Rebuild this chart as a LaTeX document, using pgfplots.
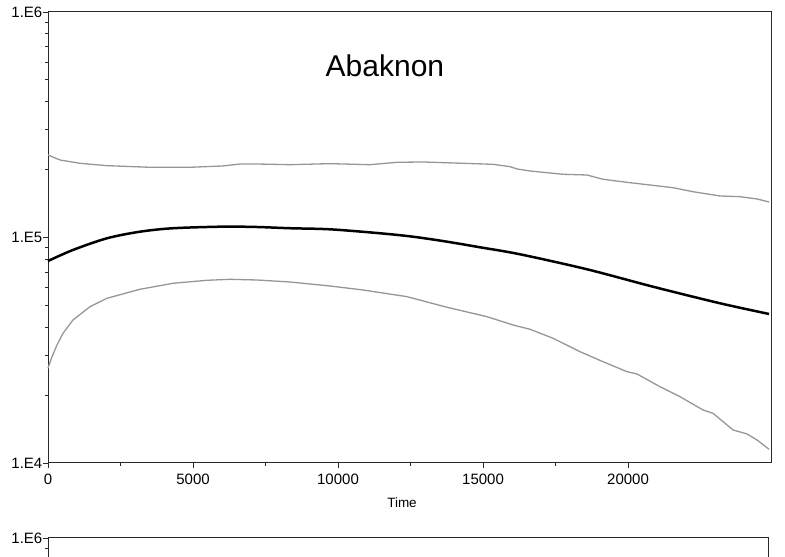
\documentclass[border=0pt]{standalone}
\usepackage{pgfplots}
\pgfplotsset{compat=1.18}
\usepackage{fontspec}
\setmainfont{Liberation Sans}
\definecolor{band}{RGB}{150,150,150}
\definecolor{frame}{RGB}{40,40,40}
\begin{document}
\begin{tikzpicture}
\path[use as bounding box] (0pt,0pt) rectangle (785pt,557pt);
\clip (0pt,0pt) rectangle (785pt,557pt);
\begin{axis}[
    at={(48pt,94pt)}, anchor=south west, width=723pt, height=451pt,
    scale only axis,
    ymode=log,
    xmin=0, xmax=24930,
    ymin=1e4, ymax=1e6,
    xtick pos=left, ytick pos=left,
    axis line style={frame, line width=1pt},
    every tick/.style={frame, line width=0.9pt},
    tick align=outside,
    major tick length=5pt,
    minor tick length=3pt,
    scaled x ticks=false,
    xtick={0,5000,10000,15000,20000},
    xticklabels={0,5000,10000,15000,20000},
    minor x tick num=1,
    ytick={1e4,1e5,1e6},
    yticklabels={1.E4,1.E5,1.E6},
    xticklabel style={font=\fontsize{15}{18}\selectfont, inner sep=0pt, yshift=-6pt},
    yticklabel style={font=\fontsize{15}{18}\selectfont, inner sep=0pt, xshift=-0.5pt},
    clip=false,
]
% upper band
\addplot[band, line width=1.3pt] coordinates {
(0,232200) (414,220600) (1103,213300) (2034,208200) (3517,204800) (4897,204800)
(6034,207600) (6621,211800) (7207,211800) (8345,210300) (9724,212500) (11103,210300)
(12034,215500) (12931,216200) (14310,213300) (15345,211100) (15931,206100) (16172,201300)
(16621,197200) (16966,195200) (17759,190700) (18586,189300) (19138,181200) (20069,175000)
(21552,166300) (22241,159600) (23172,152800) (23862,151700) (24448,148200) (24862,143700)
};
% central line
\addplot[black, line width=2.5pt, smooth] coordinates {
(0,78660) (862,88060) (2034,99190) (3172,106100) (4310,109900) (6034,111700) (7207,111300)
(8345,109900) (9724,108700) (11448,104400) (12586,100800) (13759,95810) (14897,90470)
(16276,84240) (18586,72280) (20862,60500) (23172,51080) (24862,45800)
};
% lower band
\addplot[band, line width=1.3pt] coordinates {
(0,26300) (138,29600) (310,33370) (517,37610) (862,43070) (1448,49330) (2034,53760)
(3172,58930) (4310,62650) (5483,64600) (6276,65250) (7207,64790) (8345,63490) (9724,60940)
(10862,58500) (12379,54650) (13759,49030) (15138,44550) (16034,40930) (16621,39170)
(17414,35730) (18345,31160) (19138,28130) (19966,25400) (20310,24810) (21103,21790)
(21793,19680) (22586,17180) (22931,16610) (23621,14010) (24103,13450) (24448,12650) (24862,11500)
};
\node[font=\fontsize{30}{34}\selectfont, anchor=base] at (rel axis cs:0.466,0.857) {Abaknon};
\end{axis}
\node[font=\fontsize{13.5}{16}\selectfont] at (402pt,54pt) {Time};
\begin{axis}[
    at={(48pt,19pt)}, anchor=north west, width=720pt, height=451pt,
    scale only axis,
    ymode=log,
    xmin=0, xmax=24930,
    ymin=1e4, ymax=1e6,
    xtick pos=left, ytick pos=left,
    axis line style={frame, line width=1pt},
    every tick/.style={frame, line width=0.9pt},
    tick align=outside,
    major tick length=5pt,
    minor tick length=3pt,
    scaled x ticks=false,
    xtick={0,5000,10000,15000,20000},
    xticklabels={0,5000,10000,15000,20000},
    minor x tick num=1,
    ytick={1e4,1e5,1e6},
    yticklabels={1.E4,1.E5,1.E6},
    xticklabel style={font=\fontsize{15}{18}\selectfont, inner sep=0pt, yshift=-6pt},
    yticklabel style={font=\fontsize{15}{18}\selectfont, inner sep=0pt, xshift=-0.5pt},
    clip=false,
]
\addplot[draw=none] coordinates {(0,1e5)};
\end{axis}
\end{tikzpicture}
\end{document}
